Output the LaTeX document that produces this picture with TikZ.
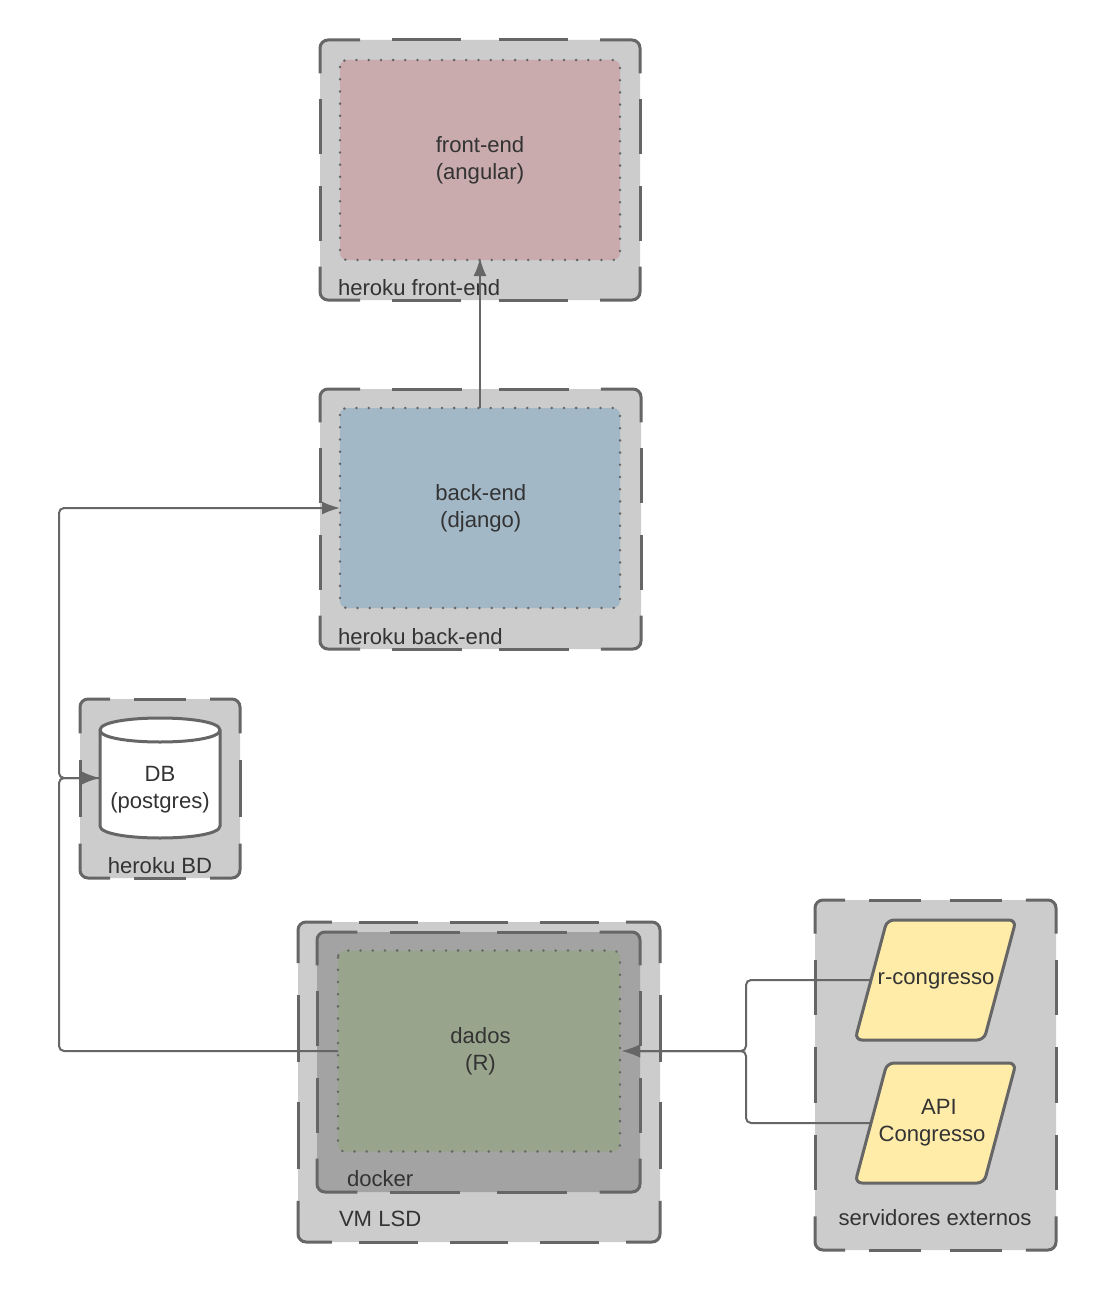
\documentclass[tikz,border=0pt]{standalone}
\usepackage{fontspec}
\setmainfont{Liberation Sans}
\usetikzlibrary{arrows.meta}
\definecolor{edgegray}{HTML}{666666}
\definecolor{ink}{HTML}{333333}
\definecolor{boxgray}{HTML}{CCCCCC}
\definecolor{dockergray}{HTML}{A3A3A3}
\definecolor{rosefill}{HTML}{C9ABAD}
\definecolor{bluefill}{HTML}{A3B8C7}
\definecolor{greenfill}{HTML}{99A48D}
\definecolor{yellowfill}{HTML}{FFECA9}
\tikzset{
  x=1pt,y=-1pt,
  every node/.style={text=ink,font=\fontsize{22.1}{27}\selectfont,inner sep=0pt,outer sep=0pt},
  panel/.style={fill=#1,rounded corners=8pt,anchor=north west},
  dashpiece/.style={draw=edgegray,line width=3pt},
  inner box/.style={fill=#1,rounded corners=7pt,align=center},
  dotted edge/.style={draw=edgegray,line width=2.7pt,line cap=round,dash pattern=on 0.1pt off 12.1pt,rounded corners=7pt},
  shapeline/.style={draw=edgegray,line width=3pt,rounded corners=7pt},
  conn/.style={draw=edgegray,line width=2pt,rounded corners=5pt},
  arrowed/.style={conn,-{Latex[length=18pt,width=13pt]}},
  caption/.style={anchor=base west},
  captionc/.style={anchor=base},
}
% name, x1, y1, x2, y2, number of gaps across, number of gaps down, fill
\newcommand{\dashpanel}[8]{%
  \node[panel=#8,minimum width={(#4-#2)*1pt},minimum height={(#5-#3)*1pt}] (#1) at (#2,#3) {};
  \pgfmathsetmacro{\px}{(#4-#2)/#6}
  \pgfmathsetmacro{\py}{(#5-#3)/#7}
  \pgfmathsetmacro{\cx}{0.375*\px}
  \pgfmathsetmacro{\cy}{0.385*\py}
  \pgfmathsetmacro{\hx}{0.325*\px}
  \pgfmathsetmacro{\hy}{0.315*\py}
  \begin{scope}[dashpiece]
  \draw[rounded corners=8pt] (#2+\cx,#3) -- (#2,#3) -- (#2,#3+\cy);
  \draw[rounded corners=8pt] (#4-\cx,#3) -- (#4,#3) -- (#4,#3+\cy);
  \draw[rounded corners=8pt] (#2+\cx,#5) -- (#2,#5) -- (#2,#5-\cy);
  \draw[rounded corners=8pt] (#4-\cx,#5) -- (#4,#5) -- (#4,#5-\cy);
  \foreach \i in {1,...,\numexpr#6-1\relax}{
    \draw (#2+\i*\px-\hx,#3) -- (#2+\i*\px+\hx,#3);
    \draw (#2+\i*\px-\hx,#5) -- (#2+\i*\px+\hx,#5);
  }
  \foreach \i in {1,...,\numexpr#7-1\relax}{
    \draw (#2,#3+\i*\py-\hy) -- (#2,#3+\i*\py+\hy);
    \draw (#4,#3+\i*\py-\hy) -- (#4,#3+\i*\py+\hy);
  }
  \end{scope}
}
\begin{document}
\begin{tikzpicture}
\useasboundingbox (0,0) rectangle (1096,1292);
\fill[white] (0,0) rectangle (1096,1292);

\dashpanel{herokufront}{320}{40}{640}{300}{3}{3}{boxgray}
\dashpanel{herokuback}{320}{389}{641}{649}{3}{3}{boxgray}
\dashpanel{herokubd}{80}{699}{240}{878}{2}{2}{boxgray}
\dashpanel{vmlsd}{298}{922}{660}{1242}{4}{3}{boxgray}
\dashpanel{dockerbox}{317}{932}{640}{1192}{3}{3}{dockergray}
\dashpanel{servers}{815}{900}{1056}{1250}{3}{4}{boxgray}

\node[inner box=rosefill,minimum width=280pt,minimum height=200pt] (front) at (480,160) {front-end\\(angular)};
\draw[dotted edge] (front.north west) rectangle (front.south east);
\node[inner box=bluefill,minimum width=280pt,minimum height=200pt] (back) at (480,508) {\hspace*{1.5pt}back-end\\\hspace*{1.5pt}(django)};
\draw[dotted edge] (back.north west) rectangle (back.south east);
\node[inner box=greenfill,minimum width=282pt,minimum height=201pt] (dados) at (479,1051) {\hspace*{3pt}dados\\\hspace*{3pt}(R)};
\draw[dotted edge] (dados.north west) rectangle (dados.south east);

% database cylinder
\node[minimum width=120pt,minimum height=120pt] (db) at (160,778) {};
\draw[draw=edgegray,line width=3pt,fill=white]
  (100,730) -- (100,826) .. controls (100,842) and (220,842) .. (220,826) -- (220,730)
  .. controls (220,714) and (100,714) .. (100,730) -- cycle;
\draw[draw=edgegray,line width=3pt] (100,730) .. controls (100,746) and (220,746) .. (220,730);
\node[align=center] (dbtext) at (160,790) {DB\\(postgres)};

% parallelograms
\node[minimum width=127pt,minimum height=120pt] (rcong) at (935.5,980) {};
\draw[shapeline,fill=yellowfill] (887,920) -- (1016,920) -- (984,1040) -- (855,1040) -- cycle;
\node[anchor=base] (rcongtext) at (936,984) {r-congresso};
\node[minimum width=127pt,minimum height=120pt] (api) at (935.5,1123) {};
\draw[shapeline,fill=yellowfill] (887,1063) -- (1016,1063) -- (984,1183) -- (855,1183) -- cycle;
\node[align=center] (apitext) at (932,1122.5) {\hspace*{14pt}API\\Congresso};

% captions
\node[caption] (capfront) at (338,295) {heroku front-end};
\node[caption] (capback) at (338,644) {heroku back-end};
\node[captionc] (capbd) at (160,873) {heroku BD};
\node[caption] (capvm) at (339,1226) {VM LSD};
\node[caption] (capdocker) at (347,1186) {docker};
\node[captionc] (capservers) at (935,1225) {servidores externos};

% connectors
\coordinate (railtop) at (59,508);
\coordinate (railmid) at (59,778);
\coordinate (railbot) at (59,1051);
\coordinate (busA) at (746,980);
\coordinate (busB) at (746,1051);
\coordinate (busC) at (746,1123);
\coordinate (rport) at (871,980);
\coordinate (aport) at (871,1123);

\draw[arrowed] (back.north) -- ([yshift=2pt]front.south);
\draw[arrowed] (dados.west) -- (railbot) -- (railmid) -- (100,778);
\draw[arrowed] (100,778) -- (railmid) -- (railtop) -- (back.west);
\draw[arrowed] (rport) -- (busA) -- (busB) -- ([xshift=2pt]dados.east);
\draw[arrowed] (aport) -- (busC) -- (busB) -- ([xshift=2pt]dados.east);
\end{tikzpicture}
\end{document}
